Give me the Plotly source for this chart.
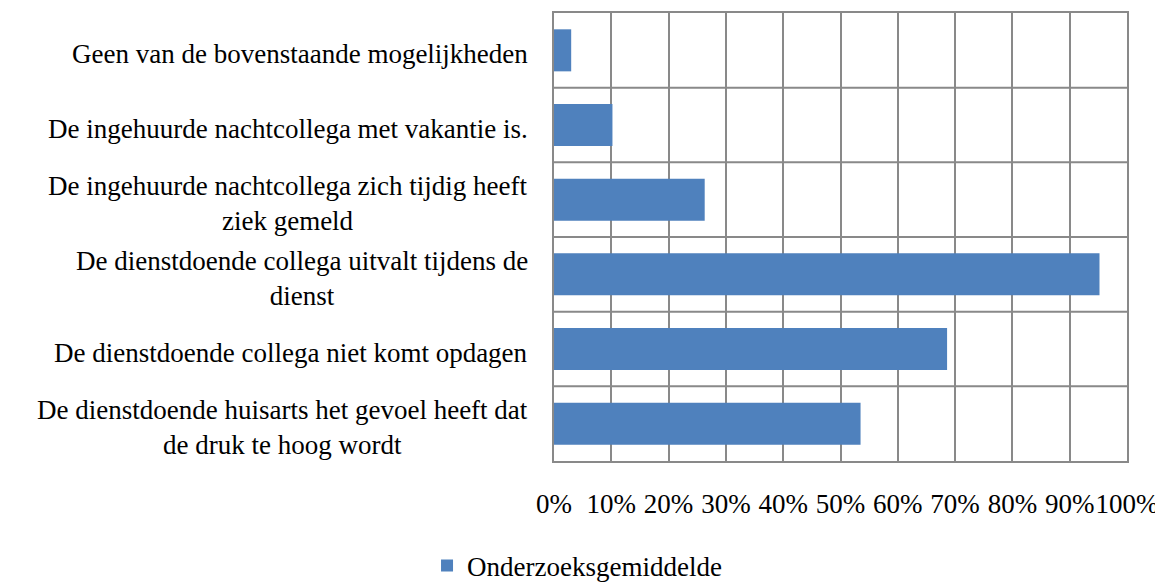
import plotly.graph_objects as go

categories = [
    "Geen van de bovenstaande mogelijkheden",
    "De ingehuurde nachtcollega met vakantie is.",
    "De ingehuurde nachtcollega zich tijdig heeft<br>ziek gemeld",
    "De dienstdoende collega uitvalt tijdens de<br>dienst",
    "De dienstdoende collega niet komt opdagen",
    "De dienstdoende huisarts het gevoel heeft dat<br>de druk te hoog wordt",
]
values = [3.0, 10.2, 26.3, 95.2, 68.6, 53.5]
series_name = "Onderzoeksgemiddelde"
tick_vals = [0, 10, 20, 30, 40, 50, 60, 70, 80, 90, 100]
tick_text = [f"{v}%" for v in tick_vals]

FONT = "Liberation Serif"
FS = 27
GRID = "#898989"

fig = go.Figure()
fig.add_trace(go.Bar(
    y=categories, x=values, orientation="h", name=series_name,
    marker=dict(color="#4F81BD", line=dict(width=0)),
    showlegend=True,
))

annotations = []
for c in categories:
    annotations.append(dict(
        x=0, xref="paper", y=c, yref="y", text=c, showarrow=False,
        xanchor="right", yanchor="middle", align="center",
        xshift=-24, yshift=-4,
        font=dict(family=FONT, size=FS, color="#000000"),
    ))

fig.update_layout(
    width=1163, height=583,
    margin=dict(l=546, r=44, t=5, b=130, autoexpand=False),
    paper_bgcolor="white", plot_bgcolor="white",
    bargap=0.437,
    font=dict(family=FONT, size=FS, color="#000000"),
    xaxis=dict(
        range=[0, 100], tickvals=tick_vals, ticktext=tick_text,
        tickangle=0, automargin=False,
        showgrid=True, gridcolor=GRID, gridwidth=2,
        showline=True, linecolor=GRID, linewidth=2, mirror=True,
        ticks="outside", ticklen=18, tickcolor="rgba(0,0,0,0)",
        tickfont=dict(family=FONT, size=FS, color="#000000"),
        zeroline=False, fixedrange=True,
    ),
    yaxis=dict(
        categoryorder="array", categoryarray=categories, autorange="reversed",
        showticklabels=False, showgrid=False, automargin=False,
        showline=True, linecolor=GRID, linewidth=2, mirror=True,
        zeroline=False,
    ),
    legend=dict(
        orientation="h", xref="container", yref="container",
        x=0.3603, xanchor="left", y=0.043, yanchor="middle",
        font=dict(family=FONT, size=FS, color="#000000"),
        bgcolor="rgba(0,0,0,0)",
    ),
    annotations=annotations,
)

# horizontal category boundary lines
for i in range(1, len(categories)):
    fig.add_shape(type="line", xref="paper", x0=0, x1=1, yref="y",
                  y0=i - 0.5, y1=i - 0.5, line=dict(color=GRID, width=2),
                  layer="below")

fig.write_html("out.html")
